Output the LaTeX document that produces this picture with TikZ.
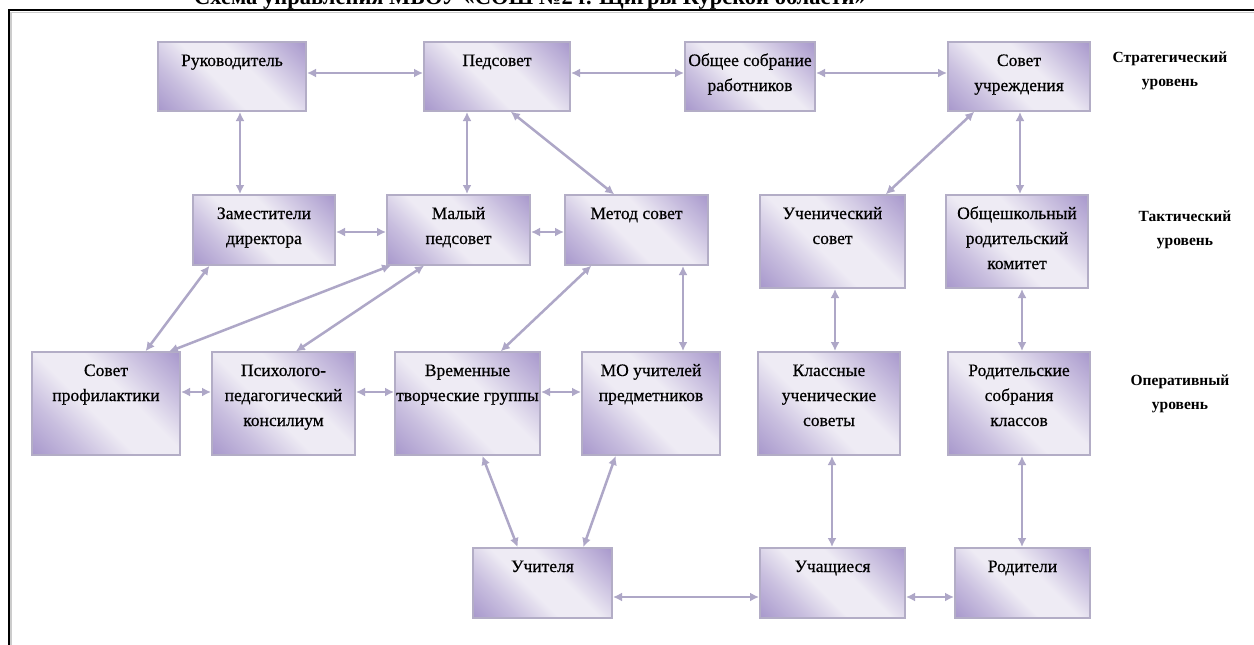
\documentclass[tikz,border=0pt]{standalone}
\usepackage{fontspec}
\setmainfont{Liberation Serif}
\newfontfamily\boxfont[FakeBold=0.5]{Liberation Serif}
\usetikzlibrary{arrows.meta}
\definecolor{pdark}{HTML}{A696CB}
\definecolor{pmid}{HTML}{C9BFDF}
\definecolor{plight}{HTML}{EEEBF4}
\definecolor{pborder}{HTML}{B3ADC6}
\definecolor{parrow}{HTML}{AEA7C7}
\pgfdeclareverticalshading{boxshade}{100bp}{color(0bp)=(pdark); color(14bp)=(pdark); color(30bp)=(pmid); color(44bp)=(plight); color(58bp)=(plight); color(72bp)=(pmid); color(86bp)=(pdark); color(100bp)=(pdark)}
\tikzset{
  bx/.style={draw=pborder, line width=1.5pt, shading=boxshade, shading angle=-45, inner sep=0pt, outer sep=0pt},
  arr/.style={draw=parrow, line width=2.5pt, {Latex[length=9pt,width=9pt]}-{Latex[length=9pt,width=9pt]}, shorten <=1pt, shorten >=1pt},
  lvl/.style={font=\fontsize{15.5}{24}\selectfont\bfseries, align=center}
}
% name, cx, cy, w, h, text
\newcommand\mybox[6]{%
  \node[bx] (#1) at (#2,#3) {\parbox[c][#5pt][t]{#4pt}{\centering\boxfont\fontsize{17.5}{25}\selectfont\rule{0pt}{24pt}#6}};}
\begin{document}
\begin{tikzpicture}[x=1pt,y=-1pt]
\useasboundingbox (0,0) rectangle (1254,645);
\fill[white] (0,0) rectangle (1254,645);
% frame
\draw[black!20, line width=1.5pt] (11,645) -- (11,12.5) -- (1254,12.5);
\draw[black, line width=2pt] (8.5,645) -- (8.5,10) -- (1254,10);
% title
\node[anchor=base, font=\fontsize{22.5}{26}\selectfont\bfseries, inner sep=0pt] (title) at (530,5) {Схема управления МБОУ «СОШ №2 г. Щигры Курской области»};
% row 1
\mybox{ruk}{232}{76.5}{148}{69}{Руководитель}
\mybox{ped}{497}{76.5}{146}{69}{Педсовет}
\mybox{obs}{750}{76.5}{130}{69}{Общее собрание\\работников}
\mybox{sov}{1019}{76.5}{142}{69}{Совет\\учреждения}
% row 2
\mybox{zam}{264}{230}{142}{70}{Заместители\\директора}
\mybox{mal}{458.5}{230}{143}{70}{Малый\\педсовет}
\mybox{met}{636.5}{230}{143}{70}{Метод совет}
\mybox{uch}{832.5}{241.5}{145}{93}{Ученический\\совет}
\mybox{obr}{1017}{241.5}{142}{93}{Общешкольный\\родительский\\комитет}
% row 3
\mybox{prof}{106}{403.5}{148}{103}{Совет\\профилактики}
\mybox{psi}{283.5}{403.5}{143}{103}{Психолого-\\педагогический\\консилиум}
\mybox{vre}{467.5}{403.5}{145}{103}{Временные\\\makebox[0pt]{творческие группы}}
\mybox{mo}{651}{403.5}{138}{103}{МО учителей\\предметников}
\mybox{kla}{829}{403.5}{142}{103}{Классные\\ученические\\советы}
\mybox{rso}{1019}{403.5}{142}{103}{Родительские\\собрания\\классов}
% row 4
\mybox{uchit}{542.5}{583}{139}{70}{Учителя}
\mybox{uchsh}{832.5}{583}{145}{70}{Учащиеся}
\mybox{rod}{1022.5}{583}{135}{70}{Родители}
% level labels
\node[lvl] (l1) at (1170,71) {Стратегический\\уровень};
\node[lvl] (l2) at (1185,230) {Тактический\\уровень};
\node[lvl] (l3) at (1180,394) {Оперативный\\уровень};
% connectors row 1
\draw[arr] (ruk.east |- 0,73) -- (ped.west |- 0,73);
\draw[arr] (ped.east |- 0,73) -- (obs.west |- 0,73);
\draw[arr] (obs.east |- 0,73) -- (sov.west |- 0,73);
% row1 - row2
\draw[arr] (ruk.south -| 240,0) -- (zam.north -| 240,0);
\draw[arr] (ped.south -| 467,0) -- (mal.north -| 467,0);
\draw[arr] (ped.south -| 510,0) -- (met.north -| 615,0);
\draw[arr] (sov.south -| 975,0) -- (uch.north -| 885,0);
\draw[arr] (sov.south -| 1020,0) -- (obr.north -| 1020,0);
% row 2
\draw[arr] (zam.east |- 0,232) -- (mal.west |- 0,232);
\draw[arr] (mal.east |- 0,232) -- (met.west |- 0,232);
% row2 - row3
\draw[arr] (zam.south -| 210,0) -- (prof.north -| 145,0);
\draw[arr] (mal.south -| 392,0) -- (prof.north -| 168,0);
\draw[arr] (mal.south -| 425,0) -- (psi.north -| 295,0);
\draw[arr] (met.south -| 592,0) -- (vre.north -| 500,0);
\draw[arr] (met.south -| 683,0) -- (mo.north -| 683,0);
\draw[arr] (uch.south -| 835,0) -- (kla.north -| 835,0);
\draw[arr] (obr.south -| 1022,0) -- (rso.north -| 1022,0);
% row 3
\draw[arr] (prof.east |- 0,392) -- (psi.west |- 0,392);
\draw[arr] (psi.east |- 0,392) -- (vre.west |- 0,392);
\draw[arr] (vre.east |- 0,392) -- (mo.west |- 0,392);
% row3 - row4
\draw[arr] (vre.south -| 482,0) -- (uchit.north -| 518,0);
\draw[arr] (mo.south -| 616,0) -- (uchit.north -| 583,0);
\draw[arr] (kla.south -| 832,0) -- (uchsh.north -| 832,0);
\draw[arr] (rso.south -| 1022,0) -- (rod.north -| 1022,0);
% row 4
\draw[arr] (uchit.east |- 0,597) -- (uchsh.west |- 0,597);
\draw[arr] (uchsh.east |- 0,597) -- (rod.west |- 0,597);
\end{tikzpicture}
\end{document}
